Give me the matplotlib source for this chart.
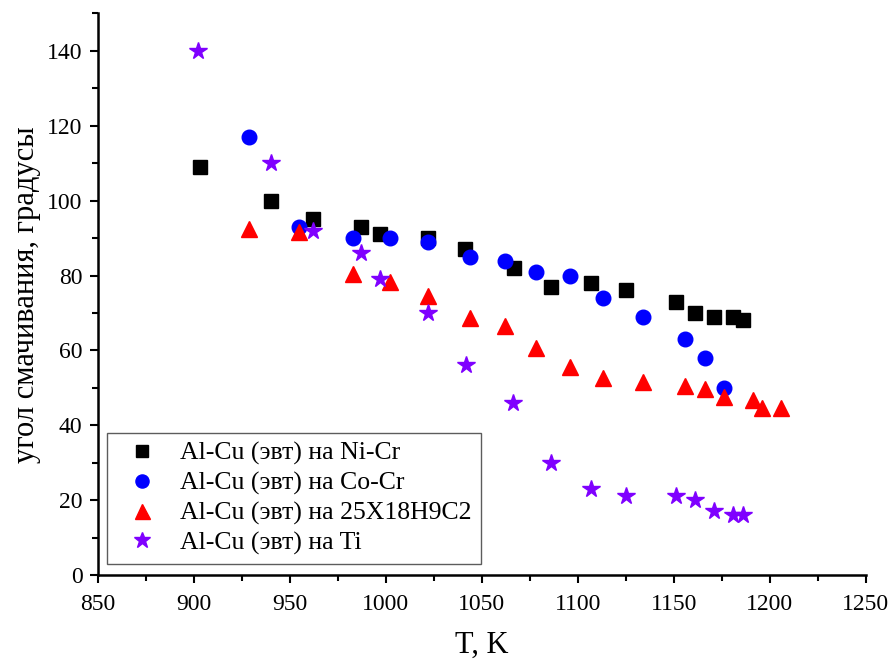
import matplotlib
matplotlib.use("Agg")
import matplotlib.pyplot as plt
from matplotlib.ticker import MultipleLocator

plt.rcParams['font.family'] = ['Liberation Serif', 'DejaVu Serif']

# Ni-Cr substrate
t_nicr = [903, 940, 962, 987, 997, 1022, 1041, 1067, 1086, 1107, 1125, 1151, 1161, 1171, 1181, 1186]
a_nicr = [109, 100, 95, 93, 91, 90, 87, 82, 77, 78, 76, 73, 70, 69, 69, 68]

# Co-Cr substrate
t_cocr = [929, 955, 983, 1002, 1022, 1044, 1062, 1078, 1096, 1113, 1134, 1156, 1166, 1176]
a_cocr = [117, 93, 90, 90, 89, 85, 84, 81, 80, 74, 69, 63, 58, 50]

# 25X18H9C2 steel substrate
t_steel = [929, 955, 983, 1002, 1022, 1044, 1062, 1078, 1096, 1113, 1134, 1156, 1166, 1176, 1191, 1196, 1206]
a_steel = [92.4, 91.6, 80.4, 78.3, 74.5, 68.6, 66.5, 60.6, 55.6, 52.6, 51.6, 50.5, 49.7, 47.6, 46.8, 44.6, 44.6]

# Ti substrate
t_ti = [902, 940, 962, 987, 997, 1022, 1042, 1066, 1086, 1107, 1125, 1151, 1161, 1171, 1181, 1186]
a_ti = [140, 110, 92, 86, 79, 70, 56, 46, 30, 23, 21, 21, 20, 17, 16, 16]

labels = ["Al-Cu (эвт) на Ni-Cr", "Al-Cu (эвт) на Co-Cr",
          "Al-Cu (эвт) на 25X18H9C2", "Al-Cu (эвт) на Ti"]

fig = plt.figure(figsize=(8.89, 6.63), dpi=100)
ax = fig.add_axes([0.110, 0.1327, 0.864, 0.847])

ax.plot(t_nicr, a_nicr, ls='none', marker='s', ms=9.5, color='black', label=labels[0])
ax.plot(t_cocr, a_cocr, ls='none', marker='o', ms=10.5, color='#0000FF', label=labels[1])
ax.plot(t_steel, a_steel, ls='none', marker='^', ms=12, color='#FF0000', label=labels[2])
ax.plot(t_ti, a_ti, ls='none', marker='*', ms=13, color='#7F00FF', label=labels[3])

ax.set_xlim(850, 1250)
ax.set_ylim(0, 150)
ax.xaxis.set_major_locator(MultipleLocator(50))
ax.xaxis.set_minor_locator(MultipleLocator(25))
ax.yaxis.set_major_locator(MultipleLocator(20))
ax.yaxis.set_minor_locator(MultipleLocator(10))

for side in ('top', 'right'):
    ax.spines[side].set_visible(False)
for side in ('left', 'bottom'):
    ax.spines[side].set_linewidth(1.8)

ax.tick_params(which='major', direction='out', length=6, width=1.5, labelsize=17)
ax.tick_params(which='minor', direction='out', length=4, width=1.5)
ax.tick_params(axis='x', which='major', pad=8)
ax.tick_params(axis='y', which='major', pad=5)

ax.set_xlabel("T, K", fontsize=22, labelpad=11)
ax.set_ylabel("угол смачивания, градусы", fontsize=22, labelpad=4)

leg = ax.legend(loc='lower left', bbox_to_anchor=(0.012, 0.020), borderaxespad=0,
                fontsize=18.5, frameon=True, fancybox=False, handletextpad=0.5,
                labelspacing=0.25, borderpad=0.35, handlelength=2.0, markerscale=0.9)
leg.get_frame().set_edgecolor('#333333')
leg.get_frame().set_linewidth(1.0)

fig.savefig("out.png", dpi=100)
